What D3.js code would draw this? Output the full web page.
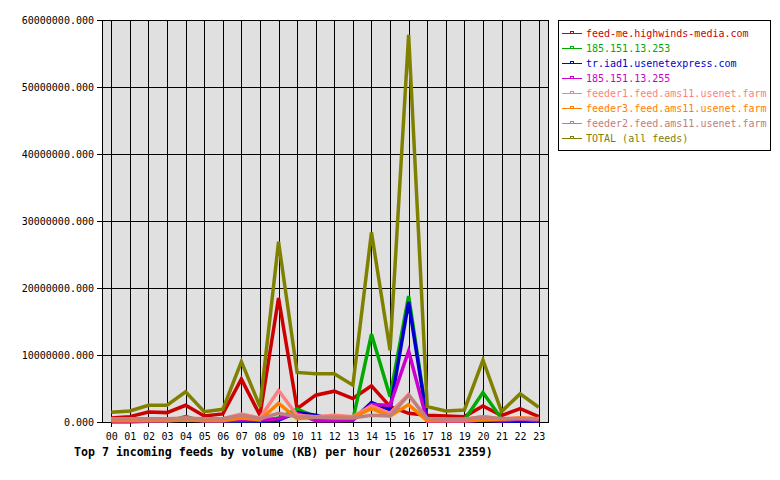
<!DOCTYPE html>
<html>
<head>
<meta charset="utf-8">
<script src="https://cdn.jsdelivr.net/npm/d3@7"></script>
<style>
  body { margin: 0; background: #fff; }
  svg { display: block; font-family: "DejaVu Sans Mono", "Liberation Mono", monospace; }
</style>
</head>
<body>
<svg id="chart" width="780" height="480"></svg>
<script>
// hours on the x axis
const hours = ["00","01","02","03","04","05","06","07","08","09","10","11",
               "12","13","14","15","16","17","18","19","20","21","22","23"];

const yTicks = [0, 10000000, 20000000, 30000000, 40000000, 50000000, 60000000];

// feed names (legend order)
const feeds = [
  "feed-me.highwinds-media.com",
  "185.151.13.253",
  "tr.iad1.usenetexpress.com",
  "185.151.13.255",
  "feeder1.feed.ams11.usenet.farm",
  "feeder3.feed.ams11.usenet.farm",
  "feeder2.feed.ams11.usenet.farm",
  "TOTAL (all feeds)"
];

const feedColors = ["#cc0000", "#00aa00", "#0000cc", "#cc00cc",
                    "#ff8080", "#ff8000", "#c08080", "#808000"];

// KB per hour (millions)
const highwinds = [0.6, 0.8, 1.5, 1.4, 2.5, 0.9, 1.2, 6.4, 1.0, 18.5, 2.0, 4.0,
                   4.6, 3.5, 5.4, 2.3, 1.3, 1.0, 0.9, 0.8, 2.4, 0.95, 2.0, 0.8];
const ip253 = [0.1, 0.1, 0.1, 0.1, 0.8, 0.1, 0.1, 0.2, 0.1, 0.6, 1.9, 0.8,
               0.5, 0.3, 13.1, 3.8, 18.8, 0.3, 0.2, 0.3, 4.4, 0.5, 0.4, 0.2];
const usenetexpress = [0.05, 0.05, 0.1, 0.1, 0.5, 0.1, 0.1, 0.2, 0.1, 0.3, 1.4, 1.0,
                       0.3, 0.3, 2.9, 1.8, 17.9, 0.2, 0.1, 0.1, 0.3, 0.1, 0.1, 0.1];
const ip255 = [0.1, 0.1, 0.2, 0.2, 0.6, 0.2, 0.2, 0.3, 0.3, 0.5, 1.3, 0.2,
               0.2, 0.3, 2.6, 2.5, 10.6, 0.1, 0.1, 0.1, 0.3, 0.2, 0.4, 0.2];
const feeder1 = [0.5, 0.5, 0.5, 0.5, 0.6, 0.5, 0.5, 1.2, 0.6, 4.7, 1.0, 0.8,
                 1.0, 0.8, 2.4, 1.3, 4.1, 0.4, 0.4, 0.4, 0.8, 0.5, 0.6, 0.5];
const feeder3 = [0.2, 0.2, 0.2, 0.2, 0.3, 0.2, 0.2, 0.6, 0.3, 2.8, 0.5, 0.7,
                 0.8, 0.7, 2.0, 0.9, 2.6, 0.2, 0.2, 0.2, 0.3, 0.4, 0.6, 0.5];
const feeder2 = [0.5, 0.5, 0.5, 0.5, 0.5, 0.5, 0.5, 1.0, 0.5, 1.3, 0.8, 0.7,
                 0.6, 0.6, 1.0, 0.9, 4.0, 0.5, 0.4, 0.4, 0.8, 0.5, 0.5, 0.5];
const total = [1.45, 1.65, 2.5, 2.5, 4.5, 1.55, 1.9, 9.0, 2.3, 26.9, 7.4, 7.2,
               7.2, 5.5, 28.3, 10.7, 57.8, 2.3, 1.65, 1.8, 9.25, 1.55, 4.2, 2.2];

const seriesValues = [highwinds, ip253, usenetexpress, ip255, feeder1, feeder3, feeder2, total];

const svg = d3.select("#chart");
const plotLeft = 102, plotRight = 548, plotTop = 20, plotBottom = 422;

const x = d3.scalePoint()
  .domain(hours)
  .range([plotLeft, plotRight])
  .padding(0.5);

const y = d3.scaleLinear()
  .domain([0, 60000000])
  .range([plotBottom, plotTop]);

// plot background
svg.append("rect")
  .attr("x", plotLeft).attr("y", plotTop)
  .attr("width", plotRight - plotLeft).attr("height", plotBottom - plotTop)
  .attr("fill", "#e0e0e0");

// grid
const grid = svg.append("g").attr("stroke", "#000").attr("stroke-width", 1).attr("shape-rendering", "crispEdges");
grid.selectAll(".vg")
  .data(hours)
  .enter().append("line")
    .attr("x1", d => Math.round(x(d)) + 0.5).attr("x2", d => Math.round(x(d)) + 0.5)
    .attr("y1", plotTop).attr("y2", plotBottom + 5);
grid.selectAll(".hg")
  .data(yTicks)
  .enter().append("line")
    .attr("x1", plotLeft - 5).attr("x2", plotRight)
    .attr("y1", d => Math.round(y(d)) + 0.5).attr("y2", d => Math.round(y(d)) + 0.5);

// plot frame
svg.append("rect")
  .attr("x", plotLeft + 0.5).attr("y", plotTop + 0.5)
  .attr("width", plotRight - plotLeft).attr("height", plotBottom - plotTop)
  .attr("fill", "none").attr("stroke", "#000")
  .attr("shape-rendering", "crispEdges");

// y labels
svg.append("g")
  .selectAll("text")
  .data(yTicks)
  .enter().append("text")
    .attr("x", plotLeft - 8)
    .attr("y", d => y(d) + 4)
    .attr("text-anchor", "end")
    .attr("font-size", "10px")
    .text(d => d3.format(".3f")(d));

// x labels
svg.append("g")
  .selectAll("text")
  .data(hours)
  .enter().append("text")
    .attr("x", d => x(d) + 0.5)
    .attr("y", 440)
    .attr("text-anchor", "middle")
    .attr("font-size", "10px")
    .text(d => d);

// series lines
const line = d3.line()
  .x((d, i) => x(hours[i]))
  .y(d => y(d * 1000000));

svg.append("g")
  .selectAll("path")
  .data(seriesValues)
  .enter().append("path")
    .attr("d", d => line(d))
    .attr("fill", "none")
    .attr("stroke", (d, i) => feedColors[i])
    .attr("stroke-width", 3.5)
    .attr("stroke-linejoin", "miter");

// title
svg.append("text")
  .attr("x", 74)
  .attr("y", 456)
  .attr("font-size", "11.6px")
  .attr("font-weight", "bold")
  .text("Top 7 incoming feeds by volume (KB) per hour (20260531 2359)");

// legend
svg.append("rect")
  .attr("x", 558.5).attr("y", 20.5)
  .attr("width", 212).attr("height", 130)
  .attr("fill", "#fff").attr("stroke", "#000")
  .attr("shape-rendering", "crispEdges");

const legend = svg.append("g")
  .selectAll("g")
  .data(feeds)
  .enter().append("g")
    .attr("transform", (d, i) => `translate(562, ${33 + i * 15})`);

legend.append("line")
  .attr("x1", 0).attr("x2", 20)
  .attr("y1", 0.5).attr("y2", 0.5)
  .attr("stroke", (d, i) => feedColors[i])
  .attr("shape-rendering", "crispEdges");
legend.append("rect")
  .attr("x", 8.5).attr("y", -1.5)
  .attr("width", 3).attr("height", 2)
  .attr("fill", "none")
  .attr("stroke", (d, i) => feedColors[i])
  .attr("shape-rendering", "crispEdges");
legend.append("text")
  .attr("x", 24)
  .attr("y", 4)
  .attr("font-size", "10px")
  .attr("fill", (d, i) => feedColors[i])
  .text(d => d);
</script>
</body>
</html>
